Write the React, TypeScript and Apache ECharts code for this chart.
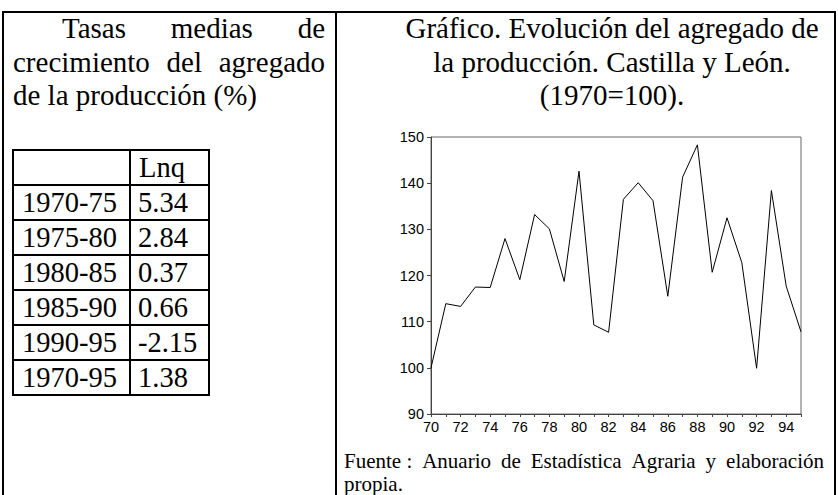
import React, { useEffect, useRef } from "react";
import * as echarts from "echarts";

// ---- data ----
const years = [1970, 1971, 1972, 1973, 1974, 1975, 1976, 1977, 1978, 1979, 1980, 1981, 1982, 1983, 1984, 1985, 1986, 1987, 1988, 1989, 1990, 1991, 1992, 1993, 1994, 1995];
const production = [100, 113.9, 113.3, 117.5, 117.4, 128.0, 119.1, 133.2, 130.1, 118.7, 142.6, 109.3, 107.7, 136.5, 140.1, 136.2, 115.5, 141.3, 148.3, 120.7, 132.5, 122.8, 99.9, 138.4, 117.7, 107.8];
const periods = ["1970-75", "1975-80", "1980-85", "1985-90", "1990-95", "1970-95"];
const lnqRates = ["5.34", "2.84", "0.37", "0.66", "-2.15", "1.38"];
const tableHeader = "Lnq";
const leftTitleLines = [["Tasas", "medias", "de"], ["crecimiento", "del", "agregado"], ["de la producción (%)"]];
const rightTitleLines = ["Gráfico. Evolución del agregado de", "la producción. Castilla y León.", "(1970=100)."];
const sourceLines = [["Fuente :", "Anuario", "de", "Estadística", "Agraria", "y", "elaboración"], ["propia."]];

const SERIF = '"Liberation Serif", "Times New Roman", serif';
const SANS = '"Liberation Sans", Arial, sans-serif';

let ctx: CanvasRenderingContext2D | null = null;
function measure(t: string, fs: number): number {
  if (!ctx) ctx = document.createElement("canvas").getContext("2d");
  if (!ctx) return t.length * fs * 0.5;
  ctx.font = `${fs}px ${SERIF}`;
  return ctx.measureText(t).width;
}

function textEl(t: string, x: number, baseline: number, fs: number, align: string = "left") {
  return {
    type: "text",
    x,
    y: baseline - fs * 0.34,
    silent: true,
    style: { text: t, fontSize: fs, fontFamily: SERIF, fill: "#000", align, verticalAlign: "middle", lineHeight: fs },
  };
}

function justifyLine(words: string[], x0: number, x1: number, baseline: number, fs: number, justify: boolean) {
  const els: any[] = [];
  if (!justify || words.length === 1) {
    els.push(textEl(words.join(" "), x0, baseline, fs));
    return els;
  }
  const widths = words.map((w) => measure(w, fs));
  const total = widths.reduce((a, b) => a + b, 0);
  const gap = (x1 - x0 - total) / (words.length - 1);
  let x = x0;
  words.forEach((w, i) => {
    els.push(textEl(w, x, baseline, fs));
    x += widths[i] + gap;
  });
  return els;
}

function line(x1: number, y1: number, x2: number, y2: number, w: number = 2) {
  return { type: "line", silent: true, shape: { x1, y1, x2, y2 }, style: { stroke: "#000", lineWidth: w } };
}

export default function App() {
  const ref = useRef<HTMLDivElement>(null);
  useEffect(() => {
    if (!ref.current) return;
    const chart = echarts.init(ref.current, null, { renderer: "svg" });
    const g: any[] = [];
    // frame
    g.push(line(2, 12, 836, 12));
    g.push(line(3, 12, 3, 495));
    g.push(line(336, 12, 336, 495));
    g.push(line(835, 12, 835, 495));
    // left title
    const titleFs = 29;
    const lb = [38, 71.5, 104.5];
    g.push(...justifyLine(leftTitleLines[0], 62, 325, lb[0], titleFs, true));
    g.push(...justifyLine(leftTitleLines[1], 13, 325, lb[1], titleFs, true));
    g.push(...justifyLine(leftTitleLines[2], 13, 325, lb[2], titleFs, false));
    // table
    const tx0 = 13, txm = 130, tx1 = 209, ty0 = 150, rh = 35.0;
    const nRows = periods.length + 1;
    for (let i = 0; i <= nRows; i++) g.push(line(tx0 - 1, ty0 + i * rh, tx1 + 1, ty0 + i * rh));
    g.push(line(tx0, ty0, tx0, ty0 + nRows * rh));
    g.push(line(txm, ty0, txm, ty0 + nRows * rh));
    g.push(line(tx1, ty0, tx1, ty0 + nRows * rh));
    const tableFs = 28.5;
    g.push(textEl(tableHeader, 139, ty0 + 27, tableFs));
    periods.forEach((p, i) => {
      const top = ty0 + (i + 1) * rh;
      g.push(textEl(p, 22, top + 27, tableFs));
      g.push(textEl(lnqRates[i], 138, top + 27, tableFs));
    });
    // right title
    rightTitleLines.forEach((t, i) => g.push(textEl(t, 612, lb[i], titleFs, "center")));
    // source
    g.push(...justifyLine(sourceLines[0], 344, 824, 468, 21, true));
    g.push(...justifyLine(sourceLines[1], 344, 824, 491, 21, false));

    chart.setOption({
      animation: false,
      backgroundColor: "#fff",
      grid: { left: 431, right: 37, top: 137, bottom: 81, show: true, borderColor: "#666", borderWidth: 1, backgroundColor: "transparent" },
      xAxis: {
        type: "value",
        min: 1970,
        max: 1995,
        interval: 1,
        axisLine: { lineStyle: { color: "#444", width: 1 } },
        axisTick: { show: true, length: 3, lineStyle: { color: "#444" } },
        axisLabel: {
          margin: 5,
          fontSize: 14.5,
          fontFamily: SANS,
          color: "#000",
          formatter: (v: number) => (v % 2 === 0 && v < 1995 ? String(v % 100).padStart(2, "0") : ""),
        },
        splitLine: { show: false },
      },
      yAxis: {
        type: "value",
        min: 90,
        max: 150,
        interval: 10,
        axisLine: { show: true, lineStyle: { color: "#444", width: 1 } },
        axisTick: { show: true, length: 4, lineStyle: { color: "#444" } },
        axisLabel: { margin: 7, fontSize: 14.5, fontFamily: SANS, color: "#000" },
        splitLine: { show: false },
      },
      series: [
        {
          type: "line",
          data: years.map((y, i) => [y, production[i]]),
          symbol: "none",
          lineStyle: { color: "#000", width: 1 },
        },
      ],
      graphic: g,
    });
    return () => chart.dispose();
  }, []);
  return <div ref={ref} style={{ width: 838, height: 495, position: "absolute", left: 0, top: 0 }} />;
}
